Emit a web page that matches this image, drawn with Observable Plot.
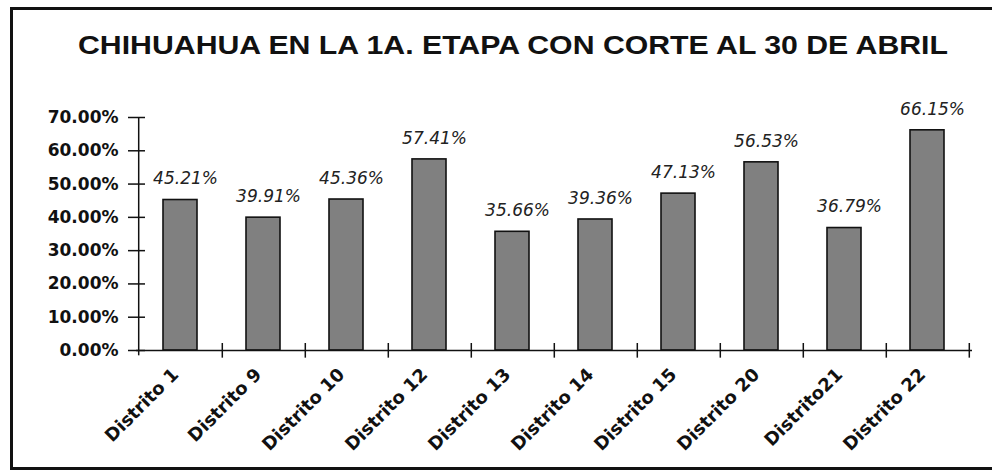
<!DOCTYPE html>
<html><head><meta charset="utf-8">
<script src="https://cdn.jsdelivr.net/npm/d3@7"></script>
<script src="https://cdn.jsdelivr.net/npm/@observablehq/plot@0.6"></script>
<style>
body{margin:0;background:#fff;}
#wrap{position:relative;width:992px;height:474px;overflow:hidden;background:#fff;}
#frame{position:absolute;left:10px;top:7px;width:1000px;height:463px;border:3px solid #111;box-sizing:border-box;}
#title{position:absolute;left:78px;top:30px;font-family:"Liberation Sans",Arial,sans-serif;font-weight:bold;font-size:26px;line-height:30px;color:#111;white-space:nowrap;transform-origin:0 50%;}
#chart{position:absolute;left:0;top:80px;}
</style></head><body>
<div id="wrap"><div id="frame"></div><div id="title">CHIHUAHUA EN LA 1A. ETAPA CON CORTE AL 30 DE ABRIL</div><div id="chart"></div></div>
<script>
const categories = ["Distrito 1","Distrito 9","Distrito 10","Distrito 12","Distrito 13","Distrito 14","Distrito 15","Distrito 20","Distrito21","Distrito 22"];
const values = [45.21, 39.91, 45.36, 57.41, 35.66, 39.36, 47.13, 56.53, 36.79, 66.15];
const yTicks = [0, 10, 20, 30, 40, 50, 60, 70];

const data = categories.map((c, i) => ({distrito: c, pct: values[i]}));
const W = 992, H = 394, mL = 136, mR = 20;
const step = (W - mL - mR) / categories.length;
const pctFmt = d => d.toFixed(2) + "%";

const plot = Plot.plot({
  width: W, height: H,
  marginTop: 37, marginBottom: 124, marginLeft: mL, marginRight: mR,
  style: {background: "transparent", fontFamily: "DejaVu Sans", color: "#111", overflow: "visible"},
  x: {domain: categories, paddingInner: 0.59, paddingOuter: 0.295, axis: null},
  y: {domain: [0, 70], axis: null},
  marks: [
    Plot.barY(data, {x: "distrito", y: "pct", fill: "#808080", stroke: "#111", strokeWidth: 1.6}),
    Plot.ruleY([0], {stroke: "#111", strokeWidth: 1.5}),
    Plot.ruleX([categories[0]], {dx: -step / 2, y1: -1.6, y2: 70, stroke: "#111", strokeWidth: 1.5}),
    Plot.ruleX(categories, {dx: step / 2, y1: -2.3, y2: 2.1, stroke: "#111", strokeWidth: 1.5}),
    Plot.axisY({ticks: yTicks, tickSize: 17, dx: 9, tickFormat: () => "", label: null, stroke: "#111", strokeWidth: 1.5}),
    Plot.axisY({ticks: yTicks, tickSize: 0, tickPadding: 18, tickFormat: pctFmt, label: null, fontWeight: "bold", fontSize: 17, fill: "#111"}),
    Plot.axisX({tickRotate: -45, tickSize: 0, tickPadding: 21, dx: -5, label: null, fontWeight: "bold", fontSize: 18, fill: "#111"}),
    Plot.text(data, {x: "distrito", y: "pct", text: d => pctFmt(d.pct), dy: -21, dx: 5, fontStyle: "italic", fontSize: 17, fill: "#222"})
  ]
});
document.getElementById("chart").appendChild(plot);

const t = document.getElementById("title");
const tw = t.getBoundingClientRect().width;
t.style.transform = `scaleX(${870 / tw})`;
</script>
</body></html>
